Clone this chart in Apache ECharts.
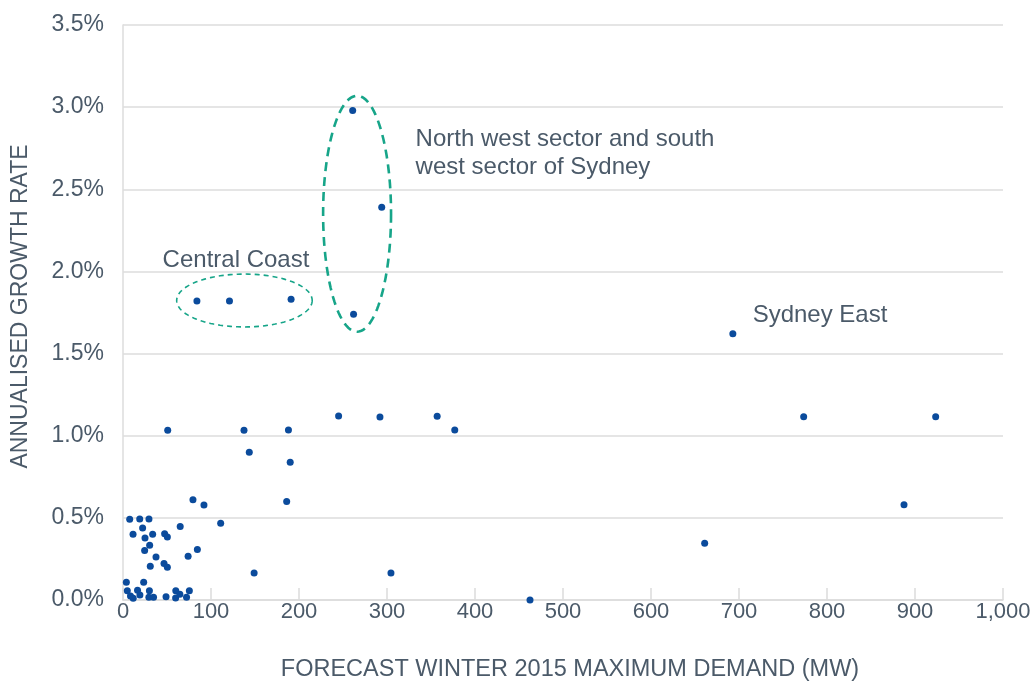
<!DOCTYPE html>
<html>
<head>
<meta charset="utf-8">
<script src="https://cdn.jsdelivr.net/npm/echarts@6/dist/echarts.min.js"></script>
<style>
  html, body { margin: 0; padding: 0; background: #ffffff; }
  #chart { width: 1035px; height: 681px; }
</style>
</head>
<body>
<div id="chart"></div>
<script>
// ---- Data ----
const demandMW = [
  3.8, 23.5,
  4.9, 16.5, 30, 60, 75.4,
  8.5, 11.6, 19.2, 29.4, 34.7, 48.9, 59.8, 64.6, 72.2,
  31, 46.6, 50.4,
  37.5, 74, 84.5, 24.6, 30.3, 25, 11.4, 33.7, 47.3, 50.4, 22.3, 65, 111,
  7.6, 19, 29.5, 79.5, 92, 186, 149, 143.5, 190, 50.8, 137.5, 188,
  245, 292, 357, 377, 304.5, 462.5,
  84, 121, 191, 261, 294, 262,
  693, 773.5, 923.5, 887.5, 661
];
const growthPct = [
  0.108, 0.108,
  0.057, 0.060, 0.057, 0.056, 0.057,
  0.025, 0.010, 0.030, 0.017, 0.017, 0.020, 0.012, 0.035, 0.016,
  0.205, 0.222, 0.200,
  0.262, 0.266, 0.308, 0.302, 0.333, 0.377, 0.400, 0.400, 0.404, 0.383, 0.438, 0.448, 0.467,
  0.491, 0.493, 0.493, 0.610, 0.578, 0.600, 0.164, 0.899, 0.838, 1.033, 1.033, 1.035,
  1.120, 1.114, 1.118, 1.035, 0.164, 0.000,
  1.820, 1.820, 1.830, 2.980, 2.390, 1.740,
  1.620, 1.116, 1.116, 0.580, 0.345
];

const xTickLabels = ['0', '100', '200', '300', '400', '500', '600', '700', '800', '900', '1,000'];
const yTickLabels = ['0.0%', '0.5%', '1.0%', '1.5%', '2.0%', '2.5%', '3.0%', '3.5%'];

const xAxisTitle = 'FORECAST WINTER 2015 MAXIMUM DEMAND (MW)';
const yAxisTitle = 'ANNUALISED GROWTH RATE';

// annotation ellipses: centre x (MW), centre y (%), radius x (MW), radius y (%)
const ellipseCX = [138, 266];
const ellipseCY = [1.823, 2.351];
const ellipseRX = [77, 38.6];
const ellipseRY = [0.161, 0.718];

// annotation texts and their anchor (left-middle) in data units
const noteTexts = ['Central Coast', 'North west sector and south\nwest sector of Sydney', 'Sydney East'];
const noteX = [45, 332.5, 715.5];
const noteY = [2.07, 2.721, 1.731];

// ---- Build chart ----
const points = demandMW.map((x, i) => [x, growthPct[i]]);
const ellipses = ellipseCX.map((cx, i) => [cx, ellipseCY[i], ellipseRX[i], ellipseRY[i]]);
const notes = noteX.map((x, i) => [x, noteY[i], i]);

const textColor = '#4b5a69';
const gridColor = '#dcdcdc';
const fontFam = '"Liberation Sans", Arial, sans-serif';
const ellipseStyles = [
  { lineWidth: 1.6, lineDash: [5, 4] },
  { lineWidth: 2.6, lineDash: [9, 6] }
];

const chart = echarts.init(document.getElementById('chart'), null, { renderer: 'canvas' });

chart.setOption({
  backgroundColor: '#ffffff',
  animation: false,
  grid: { left: 123, right: 32, top: 25, bottom: 81, containLabel: false, outerBoundsMode: 'none' },
  xAxis: {
    type: 'value',
    min: 0, max: 1000, interval: 100,
    name: xAxisTitle,
    nameLocation: 'middle',
    nameGap: 58,
    nameTextStyle: { color: textColor, fontSize: 23.5, fontFamily: fontFam, padding: [0, 0, 0, 14] },
    axisLine: { show: true, lineStyle: { color: gridColor, width: 1.5 } },
    axisTick: { show: true, inside: true, length: 12, lineStyle: { color: gridColor, width: 1.5 } },
    splitLine: { show: false },
    axisLabel: {
      color: textColor, fontSize: 22, margin: 1,
      fontFamily: fontFam,
      formatter: v => xTickLabels[Math.round(v / 100)]
    }
  },
  yAxis: {
    type: 'value',
    min: 0, max: 3.5, interval: 0.5,
    name: yAxisTitle,
    nameLocation: 'middle',
    nameRotate: 90,
    nameGap: 91,
    nameTextStyle: { color: textColor, fontSize: 23, fontFamily: fontFam, padding: [0, 0, 0, 12] },
    axisLine: { show: true, lineStyle: { color: gridColor, width: 1.5 } },
    axisTick: { show: false },
    splitLine: { show: true, lineStyle: { color: gridColor, width: 1.5 } },
    axisLabel: {
      color: textColor, fontSize: 23, margin: 19,
      fontFamily: fontFam,
      formatter: v => yTickLabels[Math.round(v / 0.5)]
    }
  },
  series: [
    {
      type: 'custom',
      silent: true,
      clip: false,
      z: 1,
      data: ellipses,
      renderItem: function (params, api) {
        const c = api.coord([api.value(0), api.value(1)]);
        const rx = api.size([api.value(2), 0])[0];
        const ry = api.size([0, api.value(3)])[1];
        const pts = [];
        const n = 120;
        for (let k = 0; k < n; k++) {
          const t = (k / n) * Math.PI * 2;
          pts.push([c[0] + rx * Math.cos(t), c[1] + ry * Math.sin(t)]);
        }
        const st = ellipseStyles[params.dataIndex];
        return {
          type: 'polygon',
          shape: { points: pts },
          style: { fill: 'none', stroke: '#17a589', lineWidth: st.lineWidth, lineDash: st.lineDash }
        };
      }
    },
    {
      type: 'custom',
      silent: true,
      clip: false,
      z: 3,
      data: notes,
      renderItem: function (params, api) {
        const p = api.coord([api.value(0), api.value(1)]);
        return {
          type: 'text',
          x: p[0], y: p[1],
          style: {
            text: noteTexts[api.value(2)],
            fill: textColor,
            fontSize: 24,
            fontFamily: fontFam,
            lineHeight: 28,
            align: 'left', textAlign: 'left',
            verticalAlign: 'middle', textVerticalAlign: 'middle'
          }
        };
      }
    },
    {
      type: 'scatter',
      z: 2,
      symbol: 'circle',
      symbolSize: 7,
      itemStyle: { color: '#0b4b9c', opacity: 1 },
      data: points
    }
  ]
});
</script>
</body>
</html>
